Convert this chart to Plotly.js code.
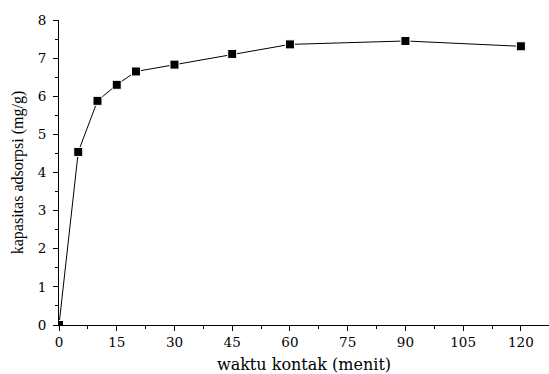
<!DOCTYPE html>
<html>
<head>
<meta charset="utf-8">
<script src="https://cdn.plot.ly/plotly-3.0.1.min.js"></script>
<style>html,body{margin:0;padding:0;background:#fff;}#chart{width:549px;height:374px;}</style>
</head>
<body>
<div id="chart"></div>
<script>
const waktu = [0, 5, 10, 15, 20, 30, 45, 60, 90, 120];
const kapasitas = [0, 4.54, 5.88, 6.30, 6.65, 6.83, 7.11, 7.36, 7.45, 7.31];
const xTicks = [0, 15, 30, 45, 60, 75, 90, 105, 120];
const yTicks = [0, 1, 2, 3, 4, 5, 6, 7, 8];

const wide = {family: 'DejaVu Serif, serif', color: '#000'};
const serif = {family: 'Liberation Serif, Times New Roman, serif', color: '#000'};
const trace = {
  x: waktu, y: kapasitas, type: 'scatter', mode: 'lines+markers',
  line: {color: '#000', width: 1},
  marker: {symbol: 'square', size: 9, color: '#000', line: {color: '#fff', width: 1}},
  cliponaxis: true
};
const layout = {
  width: 549, height: 374,
  margin: {l: 58.5, r: 0, t: 20, b: 48.5},
  paper_bgcolor: '#fff', plot_bgcolor: '#fff',
  showlegend: false,
  font: Object.assign({size: 13}, wide),
  xaxis: {
    range: [0, 127.3], showgrid: false, zeroline: false,
    showline: true, linecolor: '#000', linewidth: 1,
    ticks: 'outside', ticklen: 5, tickwidth: 1, tickcolor: '#000',
    tickvals: xTicks, ticktext: xTicks.map(String),
    tickfont: Object.assign({size: 13.5}, wide),
    minor: {dtick: 7.5, tick0: 0, ticks: 'outside', ticklen: 3, tickcolor: '#000', tickwidth: 1},
    title: {text: 'waktu kontak (menit)', font: Object.assign({size: 16}, wide), standoff: 10}
  },
  yaxis: {
    range: [0, 8], showgrid: false, zeroline: false,
    showline: true, linecolor: '#000', linewidth: 1,
    ticks: 'outside', ticklen: 5, tickwidth: 1, tickcolor: '#000',
    tickvals: yTicks, ticktext: yTicks.map(String),
    tickfont: Object.assign({size: 13.5}, wide),
    ticklabelstandoff: 4,
    minor: {dtick: 0.5, tick0: 0, ticks: 'outside', ticklen: 3, tickcolor: '#000', tickwidth: 1},
    title: {text: 'kapasitas adsorpsi (mg/g)', font: Object.assign({size: 16}, serif), standoff: 10}
  }
};
Plotly.newPlot('chart', [trace], layout, {displayModeBar: false, staticPlot: true});
</script>
</body>
</html>
